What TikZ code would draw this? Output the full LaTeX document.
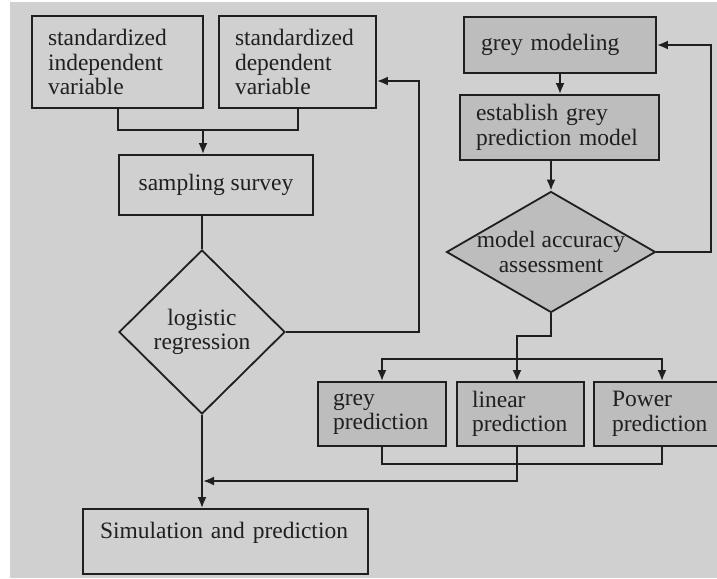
\documentclass[tikz,border=0pt]{standalone}
\usepackage{fontspec}
\setmainfont{Liberation Serif}
\usetikzlibrary{arrows.meta,shapes.geometric}
\definecolor{panelgrey}{gray}{0.815}
\definecolor{boxgrey}{gray}{0.74}
\definecolor{inkgrey}{gray}{0.12}

\begin{document}
\begin{tikzpicture}[x=1pt,y=-1pt,
    every node/.style={font=\fontsize{23.5}{24.5}\selectfont, text=inkgrey},
    every label/.style={font=\fontsize{23.5}{24.5}\selectfont, text=inkgrey, align=center},
    plainbox/.style={draw=inkgrey, line width=1.8pt, fill=panelgrey, inner sep=0pt, align=left},
    greybox/.style={plainbox, fill=boxgrey},
    choice/.style={diamond, draw=inkgrey, line width=1.8pt, inner sep=0pt, align=center},
    flow/.style={draw=inkgrey, line width=2pt},
    tip/.style={flow, -{Latex[length=11pt,width=9pt]}}]
    \useasboundingbox (0,0) rectangle (717,578);
    \fill[white] (0,0) rectangle (717,578);
    \fill[panelgrey] (10,2) rectangle (717,578);

    % left branch
    \node[plainbox, minimum width=171pt, minimum height=92pt, text width=139pt] (indep) at (117.5,62) {standardized\\independent\\variable};
    \node[plainbox, minimum width=157pt, minimum height=92pt, text width=125pt] (dep) at (297.5,62) {standardized\\dependent\\variable};
    \node[plainbox, minimum width=194pt, minimum height=60pt, align=center] (survey) at (216,185) {sampling survey};
    \node[choice, fill=panelgrey, minimum width=166pt, minimum height=164pt] (logit) at (202,332) {logistic\\regression};
    \node[plainbox, minimum width=285pt, minimum height=65pt, text width=251pt, text depth=22pt] (sim) at (225.5,541.5) {Simulation and prediction};

    % right branch
    \node[greybox, minimum width=192pt, minimum height=56pt, text width=158pt] (model) at (560,45) {grey modeling};
    \node[greybox, minimum width=199pt, minimum height=65pt, text width=167pt] (establish) at (559.5,127.5) {establish grey\\prediction model};
    \node[choice, fill=boxgrey, minimum width=209pt, minimum height=121pt,
        label={center:model accuracy\\assessment}] (accuracy) at (551,252) {};
    \node[greybox, minimum width=128pt, minimum height=64pt, text width=98pt] (greypred) at (382,414) {grey\\prediction};
    \node[greybox, minimum width=127pt, minimum height=64pt, text width=97pt] (linpred) at (520.5,414) {linear\\prediction};
    \node[greybox, minimum width=136pt, minimum height=64pt, text width=100pt] (powpred) at (662,414) {Power\\prediction};

    \coordinate (join) at (203,130);
    \coordinate (backup) at (419,81);
    \coordinate (loop) at (711,45);
    \coordinate (split) at (517,359);
    \coordinate (merge) at (203,481);

    \draw[flow] (indep.south) |- (join) -| (dep.south);
    \draw[tip] (join) -- (join |- survey.north);
    \draw[flow] (survey.south -| logit.north) -- (logit.north);
    \draw[tip] (logit.east) -| (backup) -- (backup -| dep.east);
    \draw[tip] (logit.south) -- (logit.south |- sim.north);

    \draw[tip] (model.south) -- (model.south |- establish.north);
    \draw[tip] (accuracy.north |- establish.south) -- (accuracy.north);
    \draw[tip] (accuracy.east) -| (loop) -- (model.east);
    \draw[flow] (accuracy.south) -- ++(0,23) -| (split);
    \draw[tip] (split) -| (greypred.north);
    \draw[tip] (split) -- (split |- linpred.north);
    \draw[tip] (split) -| (powpred.north);
    \draw[flow] (greypred.south) -- ++(0,17) -| (powpred.south);
    \draw[tip] (split |- linpred.south) |- (merge);
\end{tikzpicture}
\end{document}
